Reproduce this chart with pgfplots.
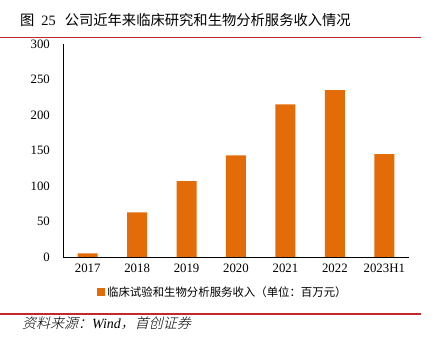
\documentclass[border=0pt]{standalone}
\usepackage{pgfplots}
\pgfplotsset{compat=1.18}
\usepackage{fontspec}
\setmainfont{Liberation Serif}
\newfontfamily\cjk{Noto Sans CJK SC}
\newfontfamily\cjkit[FakeSlant=0.25]{Noto Sans CJK SC Light}
\newfontfamily\serifit{Liberation Serif Italic}
\definecolor{barorange}{RGB}{227,108,9}
\definecolor{linered}{RGB}{192,40,45}
\begin{document}
\begin{tikzpicture}[x=1pt,y=1pt]
\path[use as bounding box] (0,0) rectangle (434,343);
\node[anchor=west, inner sep=0pt, font=\cjk\fontsize{14.3}{14.3}\selectfont] at (20,323) {图\hspace{7pt}{\rmfamily 25}\hspace{9pt}公司近年来临床研究和生物分析服务收入情况};
\draw[linered, line width=1.4pt] (0,305.5) -- (421,305.5);
\draw[linered, line width=1.4pt] (0,29) -- (421,29);
\node[anchor=west, inner sep=0pt, font=\cjkit\fontsize{14}{14}\selectfont] at (22,20) {资料来源：{\serifit Wind}，首创证券};
\begin{axis}[
  at={(63pt,86pt)}, anchor=south west,
  scale only axis, width=346pt, height=213pt,
  xmin=-0.5, xmax=6.5, ymin=0, ymax=300,
  ytick={0,50,100,150,200,250,300},
  xtick={0,1,2,3,4,5,6},
  xticklabels={2017,2018,2019,2020,2021,2022,2023H1},
  axis lines=left,
  axis line style={-, line width=0.9pt, black},
  tick style={draw=none},
  major tick length=0pt,
  /pgf/number format/assume math mode=true,
  ticklabel style={font=\fontsize{12.8}{12.8}\selectfont, inner sep=0pt},
  yticklabel style={anchor=east, xshift=-13pt},
  xticklabel style={anchor=north, yshift=-7pt},
  legend style={at={(0.462,-0.165)}, anchor=center, draw=none, fill=none,
    font=\cjk\fontsize{11.4}{11.4}\selectfont, inner sep=0pt,
    legend cell align=left},
  legend image code/.code={\fill[barorange] (0pt,-4pt) rectangle (8pt,4pt);},
  clip=false,
]
\addplot[ybar, bar width=20pt, fill=barorange, draw=none] coordinates {
  (0,5) (1,63) (2,107) (3,143) (4,215) (5,235) (6,145)
};
\addlegendentry{临床试验和生物分析服务收入（单位：百万元）}
\end{axis}
\end{tikzpicture}
\end{document}
